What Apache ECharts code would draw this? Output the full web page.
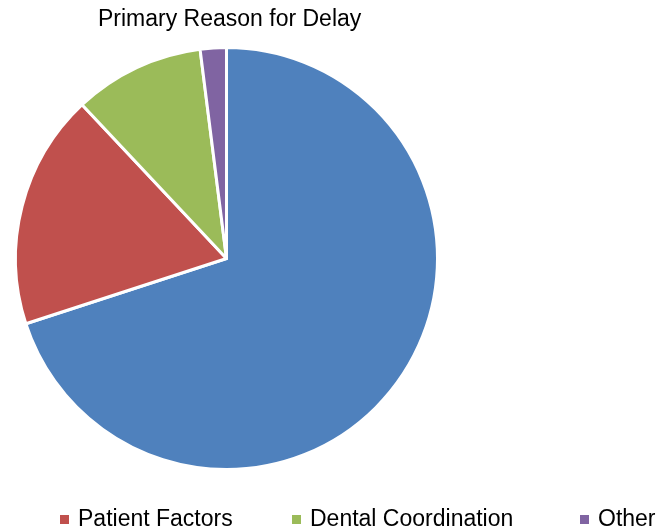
<!DOCTYPE html>
<html>
<head>
<meta charset="utf-8">
<script src="https://cdn.jsdelivr.net/npm/echarts@6/dist/echarts.min.js"></script>
<style>
  html, body { margin: 0; padding: 0; background: #fff; }
  #chart { width: 668px; height: 530px; }
</style>
</head>
<body>
<div id="chart"></div>
<script>
// categories and shares (percent)
const categories = ['Medical Factors', 'Patient Factors', 'Dental Coordination', 'Other']
const shares = [70, 18, 10, 2]
const colors = ['#4F81BD', '#C0504D', '#9BBB59', '#8064A2']

let chart = echarts.init(document.getElementById('chart'))

// one legend per visible item so they sit where the original has them
const legendPos = [
  { name: categories[1], left: 58 },
  { name: categories[2], left: 290 },
  { name: categories[3], left: 578 }
]

chart.setOption({
  animation: false,
  title: {
    text: 'Primary Reason for Delay',
    left: 98,
    top: 8,
    padding: 0,
    textStyle: {
      fontFamily: 'Liberation Sans',
      fontWeight: 'normal',
      fontSize: 23,
      lineHeight: 23,
      color: '#000'
    }
  },
  legend: legendPos.map(l => ({
    data: [l.name],
    left: l.left,
    top: 508,
    padding: 0,
    icon: 'rect',
    itemWidth: 11,
    itemHeight: 11,
    itemGap: 0,
    textStyle: {
      fontFamily: 'Liberation Sans',
      fontSize: 23,
      color: '#000',
      padding: [0, 0, 0, 3]
    }
  })),
  color: colors,
  series: [
    {
      type: 'pie',
      center: [226.5, 258.5],
      radius: 211,
      startAngle: 90,
      clockwise: true,
      label: { show: false },
      labelLine: { show: false },
      itemStyle: { borderColor: '#fff', borderWidth: 3 },
      data: categories.map((c, i) => ({ name: c, value: shares[i] }))
    }
  ]
})
</script>
</body>
</html>
